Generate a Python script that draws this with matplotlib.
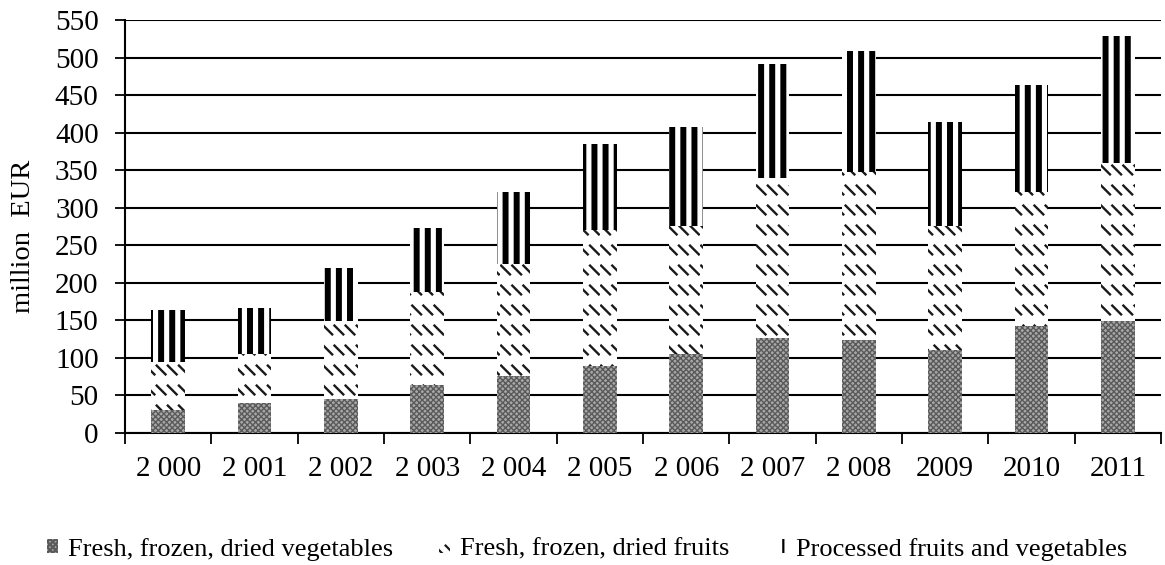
import matplotlib
matplotlib.use("Agg")
import matplotlib.pyplot as plt
from matplotlib import hatch as mhatch
from matplotlib.path import Path
import numpy as np

years = ["2 000", "2 001", "2 002", "2 003", "2 004", "2 005", "2 006", "2 007", "2 008", "2009", "2010", "2011"]
vegetables = [30, 40, 45, 63, 75, 89, 105, 126, 123, 110, 142, 149]
fruits = [64.5, 65, 104, 124, 149.5, 181, 170, 213, 225, 165, 179, 211]
processed = [69, 61, 71, 85.5, 96, 115, 133, 152, 161, 138.5, 143, 169]
series_names = ["Fresh, frozen, dried vegetables", "Fresh, frozen, dried fruits", "Processed fruits and vegetables"]
yticks = list(range(0, 551, 50))


# ---- custom hatch patterns (rows of short diagonal dashes; wide vertical stripes) ----
class DashRows(mhatch.HatchPatternBase):
    """Triggered by 'o': rows of short '\\' dashes."""
    def __init__(self, hatch, density):
        self.rows = 5 if hatch.count('o') else 0
        self.cols = 9
        self.num_vertices = self.rows * self.cols * 2

    def set_vertices_and_codes(self, vertices, codes):
        k = 0
        d = 0.044
        for r in range(self.rows):
            yc = (r + 0.5) / self.rows
            for c in range(self.cols):
                xc = (c + 0.5) / self.cols
                vertices[k] = (xc - d, yc + d)
                vertices[k + 1] = (xc + d, yc - d)
                codes[k] = Path.MOVETO
                codes[k + 1] = Path.LINETO
                k += 2


class WideStripes(mhatch.HatchPatternBase):
    """Triggered by 'O': vertical stripes, 9 per inch."""
    def __init__(self, hatch, density):
        self.n = 9 if hatch.count('O') else 0
        self.num_vertices = self.n * 2

    def set_vertices_and_codes(self, vertices, codes):
        for i in range(self.n):
            x = (i + 0.5) / self.n
            vertices[2 * i] = (x, 0.0)
            vertices[2 * i + 1] = (x, 1.0)
            codes[2 * i] = Path.MOVETO
            codes[2 * i + 1] = Path.LINETO


mhatch._hatch_types = [mhatch.HorizontalHatch, mhatch.VerticalHatch,
                       mhatch.NorthEastHatch, mhatch.SouthEastHatch,
                       DashRows, WideStripes]

plt.rcParams['font.family'] = ['Liberation Serif', 'DejaVu Serif']
plt.rcParams['hatch.linewidth'] = 1.6

fig = plt.figure(figsize=(11.65, 5.65), dpi=100)
ax = fig.add_axes([0.1073, 0.2345, 0.8893, 0.7301])

x = np.arange(len(years))
w = 0.39
veg = np.array(vegetables)
fr = np.array(fruits)
pr = np.array(processed)

b1 = ax.bar(x, veg, w, color='#a8a8a8', edgecolor='#5a5a5a', hatch='xxxxxx', linewidth=0, zorder=3, label=series_names[0])
b2 = ax.bar(x, fr, w, bottom=veg, color='white', edgecolor='#1a1a1a', hatch='o', linewidth=0, zorder=3, label=series_names[1])
b3 = ax.bar(x, pr, w, bottom=veg + fr, color='white', edgecolor='black', hatch='O', linewidth=0, zorder=3, label=series_names[2])
for p in b1:
    if hasattr(p, 'set_hatch_linewidth'):
        p.set_hatch_linewidth(1.0)
for p in b2:
    if hasattr(p, 'set_hatch_linewidth'):
        p.set_hatch_linewidth(1.7)
for p in b3:
    if hasattr(p, 'set_hatch_linewidth'):
        p.set_hatch_linewidth(4.3)

ax.set_xlim(-0.5, len(years) - 0.5)
ax.set_ylim(0, 550)
ax.set_yticks(yticks)
ax.yaxis.grid(True, color='black', linewidth=1.5, zorder=0)
ax.set_axisbelow(True)

ax.set_xticks(x)
ax.set_xticklabels(years)
ax.set_xticks(np.arange(-0.5, len(years), 1.0), minor=True)
ax.tick_params(axis='x', which='major', length=0, pad=17, labelsize=21)
ax.tick_params(axis='x', which='minor', length=8, width=1.3, color='black', direction='out')
ax.tick_params(axis='y', which='major', length=7, width=1.3, pad=12, labelsize=21)

for s in ['top', 'right']:
    ax.spines[s].set_visible(False)
ax.spines['left'].set_linewidth(1.5)
ax.spines['bottom'].set_linewidth(1.5)

ax.set_ylabel("million  EUR", fontsize=20.5)
ax.yaxis.set_label_coords(-0.086, 0.475)

fig.legend(handles=[b1, b2, b3], labels=series_names, loc='center', bbox_to_anchor=(0.504, 0.028),
           ncol=3, frameon=False, fontsize=19, handlelength=0.4, handleheight=0.45,
           handletextpad=0.38, columnspacing=1.75)

fig.savefig("out.png", dpi=100)
